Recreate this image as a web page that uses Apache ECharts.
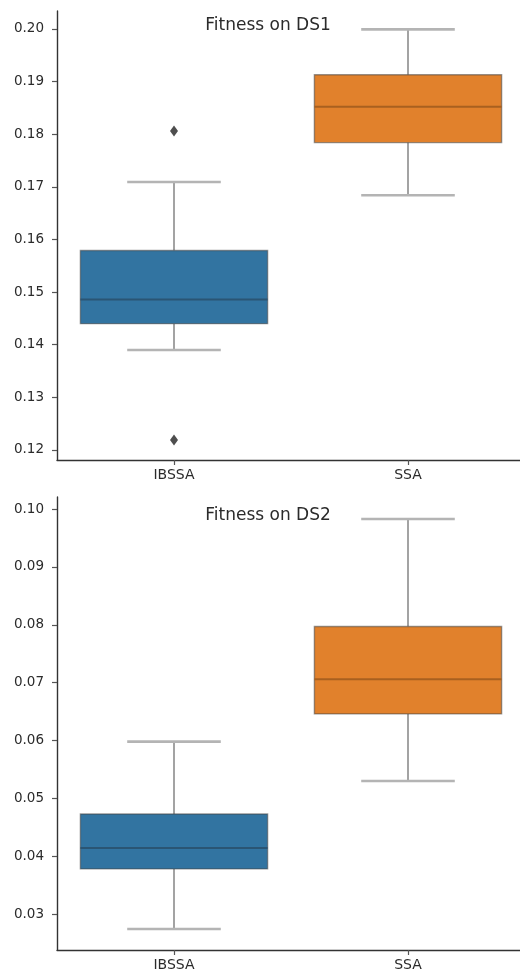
<!DOCTYPE html>
<html>
<head>
<meta charset="utf-8">
<script src="https://cdn.jsdelivr.net/npm/echarts@6/dist/echarts.min.js"></script>
<style>html,body{margin:0;padding:0;background:#fff;overflow:hidden;width:520px;height:972px;}#c{width:528px;height:972px;}</style>
</head>
<body>
<div id="c"></div>
<script>
const categories = ['IBSSA', 'SSA'];
// [min whisker, Q1, median, Q3, max whisker]
const ds1Boxes = [
  [0.1390, 0.1440, 0.1486, 0.1579, 0.1709],
  [0.1684, 0.1784, 0.1852, 0.1913, 0.1999]
];
const ds1Outliers = [[0, 0.1806], [0, 0.1219]];
const ds2Boxes = [
  [0.0274, 0.0378, 0.0414, 0.0473, 0.0598],
  [0.0530, 0.0646, 0.0706, 0.0797, 0.0983]
];
const ds2Outliers = [];
const ds1Ticks = [0.12, 0.13, 0.14, 0.15, 0.16, 0.17, 0.18, 0.19, 0.20];
const ds2Ticks = [0.03, 0.04, 0.05, 0.06, 0.07, 0.08, 0.09, 0.10];
const titles = ['Fitness on DS1', 'Fitness on DS2'];
const boxColors = ['#3274a1', '#e1812c'];
const medianColors = ['#2a5574', '#a8601f'];

const FONT = 'DejaVu Sans';

function boxRender(params, api) {
  const xi = api.value(0);
  const pMin = api.coord([xi, api.value(1)]);
  const pQ1 = api.coord([xi, api.value(2)]);
  const pMed = api.coord([xi, api.value(3)]);
  const pQ3 = api.coord([xi, api.value(4)]);
  const pMax = api.coord([xi, api.value(5)]);
  const band = api.size([1, 0])[0];
  const bw = band * 0.8;
  const cw = bw / 2;
  const cx = pMed[0];
  const wStyle = { stroke: '#8c8c8c', lineWidth: 1.6 };
  const cStyle = { stroke: '#b4b4b4', lineWidth: 2.6 };
  return {
    type: 'group',
    children: [
      { type: 'line', shape: { x1: cx, y1: pQ3[1], x2: cx, y2: pMax[1] }, style: wStyle },
      { type: 'line', shape: { x1: cx, y1: pQ1[1], x2: cx, y2: pMin[1] }, style: wStyle },
      { type: 'line', shape: { x1: cx - cw / 2, y1: pMax[1], x2: cx + cw / 2, y2: pMax[1] }, style: cStyle },
      { type: 'line', shape: { x1: cx - cw / 2, y1: pMin[1], x2: cx + cw / 2, y2: pMin[1] }, style: cStyle },
      { type: 'rect', shape: { x: cx - bw / 2, y: pQ3[1], width: bw, height: pQ1[1] - pQ3[1] },
        style: { fill: boxColors[xi], stroke: 'rgba(70,70,70,0.55)', lineWidth: 1.4 } },
      { type: 'line', shape: { x1: cx - bw / 2, y1: pMed[1], x2: cx + bw / 2, y2: pMed[1] },
        style: { stroke: medianColors[xi], lineWidth: 2 } }
    ]
  };
}

function toData(boxes) {
  return boxes.map((b, i) => [i].concat(b));
}

const grids = [
  { left: 57, top: 11, width: 468, height: 449 },
  { left: 57, top: 497, width: 468, height: 453 }
];

function xAx(gi) {
  return {
    type: 'category', gridIndex: gi, data: categories,
    axisLine: { show: true, lineStyle: { color: '#333', width: 1.4 } },
    axisTick: { show: true, alignWithLabel: true, length: 5, lineStyle: { color: '#555', width: 1.2 } },
    axisLabel: { color: '#2b2b2b', fontSize: 14, fontFamily: FONT, margin: 8 },
    splitLine: { show: false }
  };
}
function yAx(gi, min, max, ticks) {
  return {
    type: 'value', gridIndex: gi, min: min, max: max,
    axisLine: { show: true, lineStyle: { color: '#333', width: 1.4 } },
    axisTick: { show: true, length: 5, customValues: ticks, lineStyle: { color: '#555', width: 1.2 } },
    axisLabel: { color: '#2b2b2b', fontSize: 13.5, fontFamily: FONT, margin: 13, customValues: ticks,
      formatter: v => v.toFixed(2) },
    splitLine: { show: false }
  };
}

const chart = echarts.init(document.getElementById('c'), null, { renderer: 'canvas' });
chart.setOption({
  animation: false,
  backgroundColor: '#fff',
  grid: grids,
  xAxis: [xAx(0), xAx(1)],
  yAxis: [yAx(0, 0.1181, 0.2034, ds1Ticks), yAx(1, 0.02378, 0.1021, ds2Ticks)],
  graphic: [
    { type: 'text', x: 268, y: 26, style: { text: titles[0], font: '17px "DejaVu Sans"', fill: '#2b2b2b', textAlign: 'center', textVerticalAlign: 'middle' } },
    { type: 'text', x: 268, y: 516, style: { text: titles[1], font: '17px "DejaVu Sans"', fill: '#2b2b2b', textAlign: 'center', textVerticalAlign: 'middle' } }
  ],
  series: [
    { type: 'custom', xAxisIndex: 0, yAxisIndex: 0, renderItem: boxRender, data: toData(ds1Boxes),
      encode: { x: 0, y: [1, 2, 3, 4, 5] } },
    { type: 'custom', xAxisIndex: 1, yAxisIndex: 1, renderItem: boxRender, data: toData(ds2Boxes),
      encode: { x: 0, y: [1, 2, 3, 4, 5] } },
    { type: 'scatter', xAxisIndex: 0, yAxisIndex: 0, data: ds1Outliers, symbol: 'diamond', symbolSize: [8, 11],
      itemStyle: { color: '#222' } },
    { type: 'scatter', xAxisIndex: 1, yAxisIndex: 1, data: ds2Outliers, symbol: 'diamond', symbolSize: [8, 11],
      itemStyle: { color: '#222' } }
  ]
});
</script>
</body>
</html>
